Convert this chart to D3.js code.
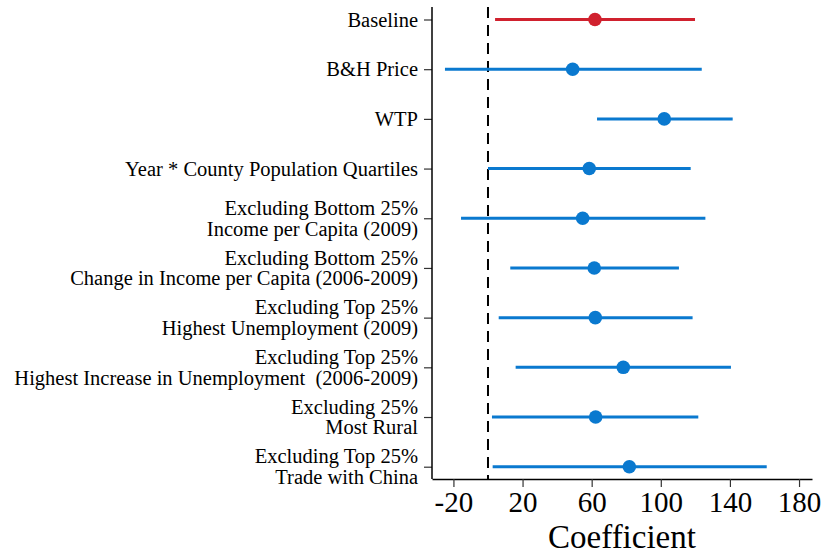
<!DOCTYPE html>
<html lang="en">
<head>
  <meta charset="UTF-8">
  <title>Coefficient plot</title>
  <script src="https://d3js.org/d3.v7.min.js"></script>
  <style>
    body { margin: 0; background: #fff; }
    svg { display: block; }
    .axis text { font-family: "Liberation Serif", "Times New Roman", serif; fill: #000; }
  </style>
</head>
<body>
<svg id="chart"></svg>
<script>
  const width = 824;
  const height = 556;

  // labels (multi-line split on "|")
  const labels = [
    "Baseline",
    "B&H Price",
    "WTP",
    "Year * County Population Quartiles",
    "Excluding Bottom 25%|Income per Capita (2009)",
    "Excluding Bottom 25%|Change in Income per Capita (2006-2009)",
    "Excluding Top 25%|Highest Unemployment (2009)",
    "Excluding Top 25%|Highest Increase in Unemployment  (2006-2009)",
    "Excluding 25%|Most Rural",
    "Excluding Top 25%|Trade with China"
  ];
  const estimates = [61.9, 49.0, 102.0, 58.6, 54.8, 61.5, 62.1, 78.3, 62.3, 81.8];
  const lower     = [4.1, -24.9, 63.1, 0.0, -15.6, 12.9, 6.2, 16.0, 2.3, 2.7];
  const upper     = [119.8, 123.7, 141.6, 117.3, 125.8, 110.5, 118.4, 140.6, 121.7, 161.3];
  const xTicks = [-20, 20, 60, 100, 140, 180];

  const red = "#d0212e";
  const blue = "#0a79cf";

  const plot = { left: 432, right: 812, top: 7, bottom: 479 };

  const svg = d3.select("#chart")
    .attr("width", width)
    .attr("height", height);

  const x = d3.scaleLinear()
    .domain([-32.4, 187.5])
    .range([plot.left, plot.right]);

  const y = d3.scalePoint()
    .domain(labels)
    .range([19.5, 466.7]);

  // x axis
  const xAxis = svg.append("g")
    .attr("class", "axis")
    .attr("transform", `translate(0, ${plot.bottom})`)
    .call(d3.axisBottom(x).tickValues(xTicks).tickFormat(d => String(d)).tickSize(8).tickSizeOuter(0).tickPadding(4));
  xAxis.select(".domain").attr("stroke", "#000").attr("stroke-width", 1.5);
  xAxis.selectAll(".tick line").attr("stroke", "#333").attr("stroke-width", 1.2);
  xAxis.selectAll("text").attr("font-size", 29);

  // y axis
  const yAxis = svg.append("g")
    .attr("class", "axis")
    .attr("transform", `translate(${plot.left}, 0)`)
    .call(d3.axisLeft(y).tickSize(8).tickSizeOuter(0).tickFormat(""));
  yAxis.select(".domain").remove();
  yAxis.selectAll(".tick line").attr("stroke", "#333").attr("stroke-width", 1.2);
  yAxis.append("line")
    .attr("x1", 0).attr("x2", 0)
    .attr("y1", plot.top).attr("y2", plot.bottom)
    .attr("stroke", "#000").attr("stroke-width", 1.5);

  yAxis.selectAll(".tick").each(function(d) {
    const lines = d.split("|");
    const t = d3.select(this).append("text")
      .attr("text-anchor", "end")
      .attr("font-size", 20.5);
    lines.forEach((ln, i) => {
      const off = lines.length === 1 ? 0 : (i === 0 ? -10.3 : 10.3);
      t.append("tspan")
        .attr("x", -14)
        .attr("y", off)
        .attr("dy", "0.32em")
        .style("white-space", "pre")
        .text(ln);
    });
  });

  // x axis title
  svg.append("text")
    .attr("x", (plot.left + plot.right) / 2)
    .attr("y", 548)
    .attr("text-anchor", "middle")
    .attr("font-family", "Liberation Serif, Times New Roman, serif")
    .attr("font-size", 33)
    .text("Coefficient");

  // reference line at zero
  svg.append("line")
    .attr("x1", x(0)).attr("x2", x(0))
    .attr("y1", plot.top).attr("y2", plot.bottom)
    .attr("stroke", "#000")
    .attr("stroke-width", 2)
    .attr("stroke-dasharray", "11,7");

  const rows = labels.map((l, i) => ({ label: l, est: estimates[i], lo: lower[i], hi: upper[i], color: i === 0 ? red : blue }));

  // CIs
  svg.selectAll(".ci")
    .data(rows)
    .join("line")
    .attr("class", "ci")
    .attr("x1", d => x(d.lo))
    .attr("x2", d => x(d.hi))
    .attr("y1", d => y(d.label))
    .attr("y2", d => y(d.label))
    .attr("stroke", d => d.color)
    .attr("stroke-width", 3);

  // point estimates
  svg.selectAll(".pt")
    .data(rows)
    .join("circle")
    .attr("class", "pt")
    .attr("cx", d => x(d.est))
    .attr("cy", d => y(d.label))
    .attr("r", 6.8)
    .attr("fill", d => d.color);
</script>
</body>
</html>
